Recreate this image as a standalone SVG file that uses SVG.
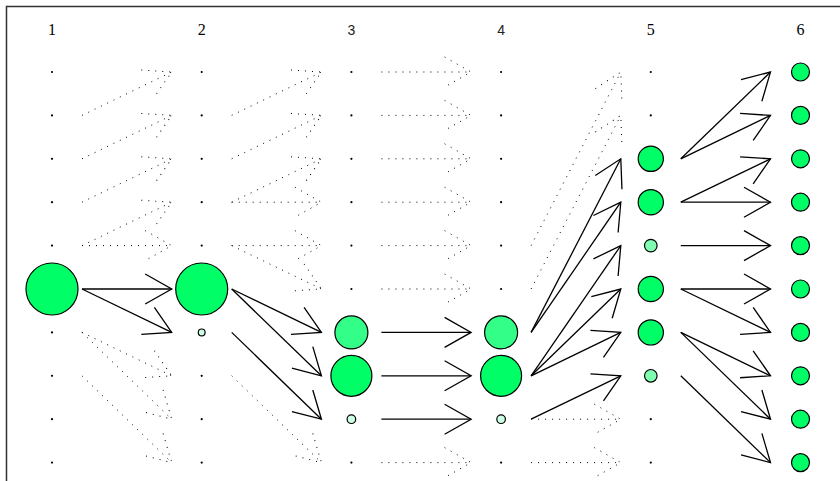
<svg xmlns="http://www.w3.org/2000/svg" width="840" height="481" viewBox="0 0 840 481">
<style>
.s{stroke:#000;stroke-width:1.3;fill:none;marker-end:url(#ah)}
.d{stroke:#000;stroke-width:1;stroke-dasharray:1 6;fill:none;marker-end:url(#ahd)}
.dot{fill:#000}
.c{stroke:#000;stroke-width:1.2}
.g{fill:#00ff66}
.m{fill:#33ff88}
.l{fill:#80ffb0}
.p{fill:#ccffe4}
.ls{font-family:"Liberation Serif",serif;font-size:16px;fill:#000;text-anchor:middle}
.lsa{font-family:"Liberation Sans",sans-serif;font-size:14px;fill:#222;text-anchor:middle}
</style>
<defs>
<marker id="ah" markerUnits="userSpaceOnUse" markerWidth="40" markerHeight="40" viewBox="-35 -20 40 40" refX="0" refY="0" orient="auto" overflow="visible">
<path d="M-26.5,-15 L0,0 L-26.5,15" fill="none" stroke="#000" stroke-width="1.3"/>
</marker>
<marker id="ahd" markerUnits="userSpaceOnUse" markerWidth="40" markerHeight="40" viewBox="-35 -20 40 40" refX="0" refY="0" orient="auto" overflow="visible">
<path d="M-26.5,-15 L0,0 L-26.5,15" fill="none" stroke="#000" stroke-width="1" stroke-dasharray="1 6"/>
</marker>
</defs>
<rect width="840" height="481" fill="#fff"/>
<path d="M6.5,490 V6.5 H850" fill="none" stroke="#333" stroke-width="1.5"/>
<g id="labels">
<text class="ls" x="52" y="35">1</text>
<text class="ls" x="201.7" y="35">2</text>
<text class="lsa" x="351.4" y="35">3</text>
<text class="lsa" x="501.1" y="35">4</text>
<text class="ls" x="650.8" y="35">5</text>
<text class="ls" x="800.5" y="35">6</text>
</g>
<g id="connectors">
<line class="d" x1="82" y1="115.4" x2="171.7" y2="72"/>
<line class="d" x1="82" y1="158.8" x2="171.7" y2="115.4"/>
<line class="d" x1="82" y1="202.2" x2="171.7" y2="158.8"/>
<line class="d" x1="82" y1="245.6" x2="171.7" y2="202.2"/>
<line class="d" x1="82" y1="245.6" x2="171.7" y2="245.6"/>
<line class="d" x1="82" y1="332.4" x2="171.7" y2="375.8"/>
<line class="d" x1="82" y1="332.4" x2="171.7" y2="419.2"/>
<line class="d" x1="82" y1="375.8" x2="171.7" y2="462.6"/>
<line class="s" x1="82" y1="289" x2="171.7" y2="289"/>
<line class="s" x1="82" y1="289" x2="171.7" y2="332.4"/>

<line class="d" x1="231.7" y1="115.4" x2="321.4" y2="72"/>
<line class="d" x1="231.7" y1="158.8" x2="321.4" y2="115.4"/>
<line class="d" x1="231.7" y1="202.2" x2="321.4" y2="158.8"/>
<line class="d" x1="231.7" y1="202.2" x2="321.4" y2="202.2"/>
<line class="d" x1="231.7" y1="245.6" x2="321.4" y2="245.6"/>
<line class="d" x1="231.7" y1="245.6" x2="321.4" y2="289"/>
<line class="d" x1="231.7" y1="375.8" x2="321.4" y2="462.6"/>
<line class="s" x1="231.7" y1="289" x2="321.4" y2="332.4"/>
<line class="s" x1="231.7" y1="289" x2="321.4" y2="375.8"/>
<line class="s" x1="231.7" y1="332.4" x2="321.4" y2="419.2"/>

<line class="d" x1="381.4" y1="72" x2="471.1" y2="72"/>
<line class="d" x1="381.4" y1="115.4" x2="471.1" y2="115.4"/>
<line class="d" x1="381.4" y1="158.8" x2="471.1" y2="158.8"/>
<line class="d" x1="381.4" y1="202.2" x2="471.1" y2="202.2"/>
<line class="d" x1="381.4" y1="245.6" x2="471.1" y2="245.6"/>
<line class="d" x1="381.4" y1="289" x2="471.1" y2="289"/>
<line class="d" x1="381.4" y1="462.6" x2="471.1" y2="462.6"/>
<line class="s" x1="381.4" y1="332.4" x2="471.1" y2="332.4"/>
<line class="s" x1="381.4" y1="375.8" x2="471.1" y2="375.8"/>
<line class="s" x1="381.4" y1="419.2" x2="471.1" y2="419.2"/>

<line class="d" x1="531.1" y1="245.6" x2="620.8" y2="72"/>
<line class="d" x1="531.1" y1="289" x2="620.8" y2="115.4"/>
<line class="d" x1="531.1" y1="419.2" x2="620.8" y2="419.2"/>
<line class="d" x1="531.1" y1="462.6" x2="620.8" y2="462.6"/>
<line class="s" x1="531.1" y1="332.4" x2="620.8" y2="158.8"/>
<line class="s" x1="531.1" y1="332.4" x2="620.8" y2="202.2"/>
<line class="s" x1="531.1" y1="375.8" x2="620.8" y2="245.6"/>
<line class="s" x1="531.1" y1="375.8" x2="620.8" y2="289"/>
<line class="s" x1="531.1" y1="375.8" x2="620.8" y2="332.4"/>
<line class="s" x1="531.1" y1="419.2" x2="620.8" y2="375.8"/>

<line class="s" x1="680.8" y1="158.8" x2="770.5" y2="72"/>
<line class="s" x1="680.8" y1="158.8" x2="770.5" y2="115.4"/>
<line class="s" x1="680.8" y1="202.2" x2="770.5" y2="158.8"/>
<line class="s" x1="680.8" y1="202.2" x2="770.5" y2="202.2"/>
<line class="s" x1="680.8" y1="245.6" x2="770.5" y2="245.6"/>
<line class="s" x1="680.8" y1="289" x2="770.5" y2="289"/>
<line class="s" x1="680.8" y1="289" x2="770.5" y2="332.4"/>
<line class="s" x1="680.8" y1="332.4" x2="770.5" y2="375.8"/>
<line class="s" x1="680.8" y1="332.4" x2="770.5" y2="419.2"/>
<line class="s" x1="680.8" y1="375.8" x2="770.5" y2="462.6"/>
</g>
<g id="nodes-col1">
<g id="n1-0"><circle class="dot" cx="52" cy="72" r="1.1"/></g>
<g id="n1-1"><circle class="dot" cx="52" cy="115.4" r="1.1"/></g>
<g id="n1-2"><circle class="dot" cx="52" cy="158.8" r="1.1"/></g>
<g id="n1-3"><circle class="dot" cx="52" cy="202.2" r="1.1"/></g>
<g id="n1-4"><circle class="dot" cx="52" cy="245.6" r="1.1"/></g>
<g id="n1-5"><circle class="c g" cx="52" cy="289" r="26"/></g>
<g id="n1-6"><circle class="dot" cx="52" cy="332.4" r="1.1"/></g>
<g id="n1-7"><circle class="dot" cx="52" cy="375.8" r="1.1"/></g>
<g id="n1-8"><circle class="dot" cx="52" cy="419.2" r="1.1"/></g>
<g id="n1-9"><circle class="dot" cx="52" cy="462.6" r="1.1"/></g>
</g>
<g id="nodes-col2">
<g id="n2-0"><circle class="dot" cx="201.7" cy="72" r="1.1"/></g>
<g id="n2-1"><circle class="dot" cx="201.7" cy="115.4" r="1.1"/></g>
<g id="n2-2"><circle class="dot" cx="201.7" cy="158.8" r="1.1"/></g>
<g id="n2-3"><circle class="dot" cx="201.7" cy="202.2" r="1.1"/></g>
<g id="n2-4"><circle class="dot" cx="201.7" cy="245.6" r="1.1"/></g>
<g id="n2-5"><circle class="c g" cx="201.7" cy="289" r="26"/></g>
<g id="n2-6"><circle class="c p" cx="201.7" cy="332.4" r="3.4"/></g>
<g id="n2-7"><circle class="dot" cx="201.7" cy="375.8" r="1.1"/></g>
<g id="n2-8"><circle class="dot" cx="201.7" cy="419.2" r="1.1"/></g>
<g id="n2-9"><circle class="dot" cx="201.7" cy="462.6" r="1.1"/></g>
</g>
<g id="nodes-col3">
<g id="n3-0"><circle class="dot" cx="351.4" cy="72" r="1.1"/></g>
<g id="n3-1"><circle class="dot" cx="351.4" cy="115.4" r="1.1"/></g>
<g id="n3-2"><circle class="dot" cx="351.4" cy="158.8" r="1.1"/></g>
<g id="n3-3"><circle class="dot" cx="351.4" cy="202.2" r="1.1"/></g>
<g id="n3-4"><circle class="dot" cx="351.4" cy="245.6" r="1.1"/></g>
<g id="n3-5"><circle class="dot" cx="351.4" cy="289" r="1.1"/></g>
<g id="n3-6"><circle class="c m" cx="351.4" cy="332.4" r="16.5"/></g>
<g id="n3-7"><circle class="c g" cx="351.4" cy="375.8" r="20.5"/></g>
<g id="n3-8"><circle class="c p" cx="351.4" cy="419.2" r="4.3"/></g>
<g id="n3-9"><circle class="dot" cx="351.4" cy="462.6" r="1.1"/></g>
</g>
<g id="nodes-col4">
<g id="n4-0"><circle class="dot" cx="501.1" cy="72" r="1.1"/></g>
<g id="n4-1"><circle class="dot" cx="501.1" cy="115.4" r="1.1"/></g>
<g id="n4-2"><circle class="dot" cx="501.1" cy="158.8" r="1.1"/></g>
<g id="n4-3"><circle class="dot" cx="501.1" cy="202.2" r="1.1"/></g>
<g id="n4-4"><circle class="dot" cx="501.1" cy="245.6" r="1.1"/></g>
<g id="n4-5"><circle class="dot" cx="501.1" cy="289" r="1.1"/></g>
<g id="n4-6"><circle class="c m" cx="501.1" cy="332.4" r="16.5"/></g>
<g id="n4-7"><circle class="c g" cx="501.1" cy="375.8" r="20.5"/></g>
<g id="n4-8"><circle class="c p" cx="501.1" cy="419.2" r="4.3"/></g>
<g id="n4-9"><circle class="dot" cx="501.1" cy="462.6" r="1.1"/></g>
</g>
<g id="nodes-col5">
<g id="n5-0"><circle class="dot" cx="650.8" cy="72" r="1.1"/></g>
<g id="n5-1"><circle class="dot" cx="650.8" cy="115.4" r="1.1"/></g>
<g id="n5-2"><circle class="c g" cx="650.8" cy="158.8" r="12.6"/></g>
<g id="n5-3"><circle class="c g" cx="650.8" cy="202.2" r="12.6"/></g>
<g id="n5-4"><circle class="c l" cx="650.8" cy="245.6" r="6.3"/></g>
<g id="n5-5"><circle class="c g" cx="650.8" cy="289" r="12.6"/></g>
<g id="n5-6"><circle class="c g" cx="650.8" cy="332.4" r="12.6"/></g>
<g id="n5-7"><circle class="c l" cx="650.8" cy="375.8" r="6.3"/></g>
<g id="n5-8"><circle class="dot" cx="650.8" cy="419.2" r="1.1"/></g>
<g id="n5-9"><circle class="dot" cx="650.8" cy="462.6" r="1.1"/></g>
</g>
<g id="nodes-col6">
<g id="n6-0"><circle class="c g" cx="800.5" cy="72" r="9"/></g>
<g id="n6-1"><circle class="c g" cx="800.5" cy="115.4" r="9"/></g>
<g id="n6-2"><circle class="c g" cx="800.5" cy="158.8" r="9"/></g>
<g id="n6-3"><circle class="c g" cx="800.5" cy="202.2" r="9"/></g>
<g id="n6-4"><circle class="c g" cx="800.5" cy="245.6" r="9"/></g>
<g id="n6-5"><circle class="c g" cx="800.5" cy="289" r="9"/></g>
<g id="n6-6"><circle class="c g" cx="800.5" cy="332.4" r="9"/></g>
<g id="n6-7"><circle class="c g" cx="800.5" cy="375.8" r="9"/></g>
<g id="n6-8"><circle class="c g" cx="800.5" cy="419.2" r="9"/></g>
<g id="n6-9"><circle class="c g" cx="800.5" cy="462.6" r="9"/></g>
</g>
</svg>
